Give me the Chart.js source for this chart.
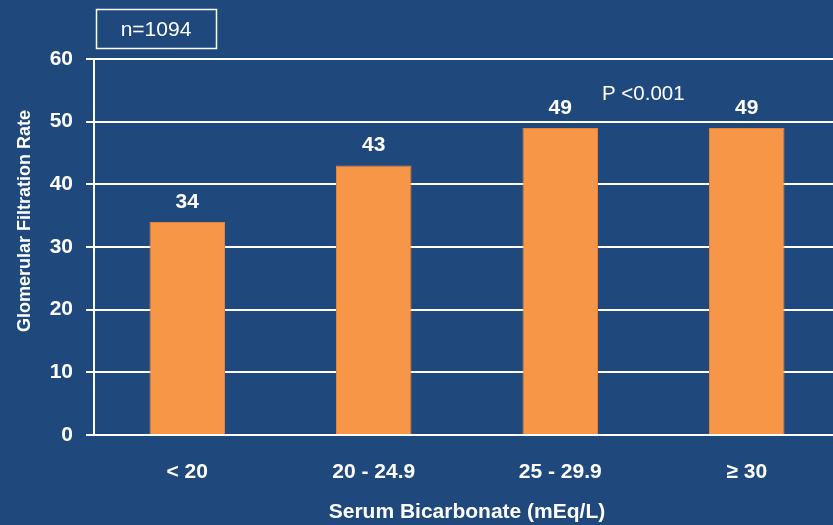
<!DOCTYPE html>
<html>
<head>
<meta charset="utf-8">
<script src="https://cdn.jsdelivr.net/npm/chart.js@4/dist/chart.umd.min.js"></script>
<style>
  html, body { margin: 0; padding: 0; background: #1F497D; overflow: hidden; }
  #wrap { width: 850px; height: 525px; }
</style>
</head>
<body>
<div id="wrap"><canvas id="c" width="850" height="525"></canvas></div>
<script>
const categories = ['< 20', '20 - 24.9', '25 - 29.9', '\u2265 30'];
const gfrValues = [34, 43, 49, 49];
const yTicks = [0, 10, 20, 30, 40, 50, 60];
const xTitle = 'Serum Bicarbonate (mEq/L)';
const yTitle = 'Glomerular Filtration Rate';
const sampleNote = 'n=1094';
const pNote = 'P <0.001';

const FONT = '"Liberation Sans", Arial, sans-serif';
const BG = '#1F497D';
const ORANGE = '#F79646';

const annotations = {
  id: 'annotations',
  afterDatasetsDraw(chart) {
    const ctx = chart.ctx;
    const meta = chart.getDatasetMeta(0);
    ctx.save();
    ctx.fillStyle = '#FFFFFF';
    ctx.textAlign = 'center';
    ctx.textBaseline = 'middle';
    ctx.font = 'bold 21px ' + FONT;
    meta.data.forEach((bar, i) => {
      ctx.fillText(String(gfrValues[i]), bar.x, bar.y - 20);
    });
    // y title
    ctx.save();
    ctx.font = 'bold 18px ' + FONT;
    ctx.translate(25, 221);
    ctx.rotate(-Math.PI / 2);
    ctx.fillText(yTitle, 0, 0);
    ctx.restore();
    // n box
    ctx.fillStyle = BG;
    ctx.fillRect(96, 9, 121, 40);
    ctx.strokeStyle = '#FFFFFF';
    ctx.lineWidth = 1.5;
    ctx.strokeRect(96.5, 9.5, 120, 39);
    ctx.fillStyle = '#FFFFFF';
    ctx.font = '21px ' + FONT;
    ctx.fillText(sampleNote, 156, 30);
    ctx.textAlign = 'left';
    ctx.font = '20.5px ' + FONT;
    ctx.fillText(pNote, 602, 94);
    ctx.restore();
  }
};

new Chart(document.getElementById('c'), {
  type: 'bar',
  data: {
    labels: categories,
    datasets: [{
      data: gfrValues,
      backgroundColor: ORANGE,
      borderColor: '#E0853C',
      borderWidth: 1,
      barPercentage: 0.405,
      categoryPercentage: 1
    }]
  },
  options: {
    responsive: false,
    animation: false,
    layout: { padding: { top: 59, right: 10, bottom: 0, left: 0 } },
    plugins: { legend: { display: false }, tooltip: { enabled: false } },
    scales: {
      x: {
        grid: { display: false, drawTicks: false },
        border: { display: true, color: '#FFFFFF', width: 2 },
        ticks: { color: '#FFFFFF', font: { family: FONT, weight: 'bold', size: 21 }, padding: 25, maxRotation: 0 },
        title: { display: true, text: xTitle, color: '#FFFFFF', font: { family: FONT, weight: 'bold', size: 21 }, padding: { top: 0, bottom: 0 } },
        afterFit(scale) { scale.height = 90; }
      },
      y: {
        min: 0, max: 60,
        afterBuildTicks(scale) { scale.ticks = yTicks.map(v => ({ value: v })); },
        grid: { color: '#FFFFFF', lineWidth: 2, tickLength: 8, drawTicks: true },
        border: { display: true, color: '#FFFFFF', width: 2 },
        ticks: { color: '#FFFFFF', font: { family: FONT, weight: 'bold', size: 21 }, padding: 13 },
        afterFit(scale) { scale.width = 94; }
      }
    }
  },
  plugins: [annotations]
});
</script>
</body>
</html>
